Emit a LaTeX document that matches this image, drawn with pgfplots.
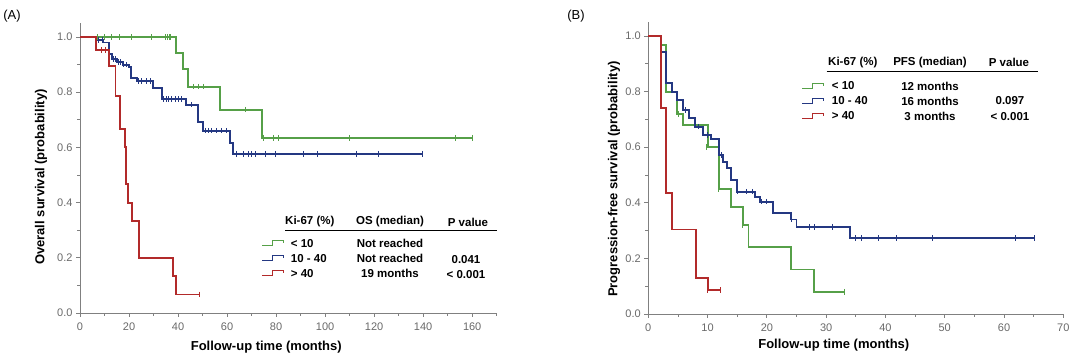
\documentclass[border=0pt]{standalone}
\usepackage{pgfplots}
\pgfplotsset{compat=1.18}
\usepackage{fontspec}
\setmainfont{Liberation Sans}
\definecolor{kmgreen}{RGB}{86,160,72}
\definecolor{kmblue}{RGB}{36,56,130}
\definecolor{kmred}{RGB}{178,42,42}
\definecolor{axgray}{RGB}{128,128,128}
\definecolor{tickgray}{RGB}{105,105,105}
\pgfplotsset{
 kmstyle/.style={
  scale only axis, clip=false,
  axis x line*=bottom, axis y line*=left,
  axis line style={axgray, line width=0.8pt},
  every tick/.style={axgray, line width=0.8pt},
  tick align=outside,
  major tick length=4pt, minor tick length=3pt,
  ymin=0, ymax=1.05,
  ytick={0,0.2,0.4,0.6,0.8,1.0},
  minor ytick={0.1,0.3,0.5,0.7,0.9},
  y tick label style={/pgf/number format/fixed, /pgf/number format/fixed zerofill, /pgf/number format/precision=1},
  /pgf/number format/assume math mode=true,
  tick label style={font=\fontsize{11}{13}\selectfont, text=tickgray},
  x tick label style={yshift=-2pt},
  label style={font=\bfseries\fontsize{13}{15}\selectfont},
 },
 km/.style={const plot, line width=1.9pt, line join=miter, #1},
 cens/.style={only marks, mark=|, mark size=2.8pt, mark options={line width=0.9pt, #1}},
}
\newcommand{\kmglyph}[3]{\draw[#1, line width=0.8pt] (#2,#3-2.5) -- (#2+10,#3-2.5) -- (#2+10,#3+3) -- (#2+21,#3+3) -- (#2+21,#3);}
\begin{document}
\begin{tikzpicture}[x=1pt,y=1pt]
\path[use as bounding box] (0,0) rectangle (1080,364);
% ---------------- Panel A ----------------
\begin{axis}[kmstyle, at={(80pt,51pt)}, anchor=south west,
  width=416.7pt, height=289.8pt,
  xmin=0, xmax=170,
  xtick={0,20,40,60,80,100,120,140,160},
  minor xtick={10,30,50,70,90,110,130,150,170},
  xlabel={Follow-up time (months)},
  ylabel={Overall survival (probability)},
  xlabel style={at={(axis description cs:0.447,0)}, anchor=center, yshift=-34pt},
  ylabel style={at={(axis description cs:-0.0936,0.469)}, anchor=center},
]
\addplot[km=kmgreen] coordinates {(0,1.0) (39,0.943) (42,0.883) (44.2,0.82) (57,0.737) (74.1,0.635) (160,0.635)};
\addplot[cens=kmgreen] coordinates {(7,1) (10,1) (13,1) (16,1) (21,1) (29,1) (35,1) (35.7,1) (36.4,1) (37.1,1)
 (46.3,0.82) (48.3,0.82) (50.3,0.82) (67.3,0.737)
 (74.8,0.635) (78.9,0.635) (80.9,0.635) (109.9,0.635) (153,0.635) (160,0.635)};
\addplot[km=kmblue] coordinates {(0,1.0) (6.5,0.99) (9.5,0.98) (12.0,0.94) (12.9,0.92) (15,0.91) (17.7,0.90) (20,0.89) (20.8,0.85) (23.1,0.84) (29.7,0.815) (33.3,0.776) (43.3,0.755) (48.3,0.692) (50.3,0.661) (61.2,0.615) (62.3,0.577) (140,0.577)};
\addplot[cens=kmblue] coordinates {(7.5,0.99) (9,0.99) (13.6,0.92) (14.3,0.92) (15.6,0.91) (16.3,0.91) (17.9,0.90) (19.0,0.90)
 (23.8,0.84) (25.2,0.84) (27.2,0.84) (28.6,0.84)
 (34,0.776) (35.1,0.776) (36,0.776) (37.4,0.776) (38.8,0.776) (40.1,0.776) (41.5,0.776) (45.6,0.755)
 (51,0.661) (52.4,0.661) (53.7,0.661) (55.8,0.661) (57.8,0.661) (59.9,0.661)
 (64,0.577) (66.7,0.577) (68.7,0.577) (70.1,0.577) (71.4,0.577) (75.5,0.577) (79.6,0.577) (91.2,0.577) (96.9,0.577) (112.9,0.577) (121.8,0.577) (139.9,0.577)};
\addplot[km=kmred] coordinates {(0,1.0) (6.5,0.953) (12,0.896) (14.5,0.787) (16.5,0.666) (18.2,0.6) (18.9,0.467) (19.7,0.4) (21.1,0.333) (24.1,0.2) (38.1,0.133) (39.2,0.067) (48.7,0.067)};
\addplot[cens=kmred] coordinates {(8.8,0.953) (10.2,0.953) (48.7,0.067)};
\end{axis}
% ---------------- Panel B ----------------
\begin{axis}[kmstyle, at={(648.3pt,50pt)}, anchor=south west,
  width=415pt, height=291.9pt,
  xmin=0, xmax=70,
  xtick={0,10,20,30,40,50,60,70},
  minor xtick={5,15,25,35,45,55,65},
  xlabel={Follow-up time (months)},
  ylabel={Progression-free survival (probability)},
  xlabel style={at={(axis description cs:0.447,0)}, anchor=center, yshift=-31pt},
  ylabel style={at={(axis description cs:-0.0827,0.462)}, anchor=center},
]
\addplot[km=kmgreen] coordinates {(0,1) (2.08,0.967) (3.0,0.80) (4.8,0.72) (5.9,0.68) (10.0,0.6) (11.9,0.45) (13.9,0.384) (15.9,0.32) (16.9,0.24) (24,0.16) (28,0.08) (33.1,0.08)};
\addplot[cens=kmgreen] coordinates {(5.1,0.72) (9.8,0.6) (11.9,0.45) (15.9,0.32) (33.1,0.08)};
\addplot[km=kmblue] coordinates {(0,1) (2.08,0.943) (3.0,0.83) (4.0,0.80) (4.9,0.77) (5.9,0.734) (6.9,0.704) (7.85,0.674) (9.2,0.644) (10.6,0.628) (12.0,0.572) (12.6,0.548) (13.2,0.524) (14.0,0.482) (15.0,0.44) (18.0,0.42) (18.8,0.404) (21.0,0.364) (24.1,0.34) (25.0,0.314) (34.0,0.274) (65.2,0.274)};
\addplot[cens=kmblue] coordinates {(6.2,0.734) (8.5,0.674) (10,0.644) (12.3,0.572) (15,0.44) (16.5,0.44) (17.6,0.44) (19.1,0.404) (20,0.404) (24.1,0.34)
 (27.1,0.314) (28.1,0.314) (31,0.314) (34.9,0.274) (36,0.274) (38.9,0.274) (41.9,0.274) (47.9,0.274) (61.9,0.274) (65.2,0.274)};
\addplot[km=kmred] coordinates {(0,1) (2.08,0.74) (2.97,0.435) (3.95,0.304) (8.1,0.13) (10,0.087) (12.2,0.087)};
\addplot[cens=kmred] coordinates {(10,0.087) (12.2,0.087)};
\end{axis}
% ---------------- Panel labels ----------------
\node[font=\fontsize{13}{15}\selectfont, anchor=center] at (12,348) {(A)};
\node[font=\fontsize{13}{15}\selectfont, anchor=center] at (576,348) {(B)};
% ---------------- Legend A ----------------
\begin{scope}[every node/.style={font=\bfseries\fontsize{11.5}{13}\selectfont, inner sep=0pt}]
\node[anchor=west] at (285,142) {Ki-67 (\%)};
\node at (390,142) {OS (median)};
\node at (468,142) {P value};
\draw[line width=1pt] (285,133.3) -- (497,133.3);
\kmglyph{kmgreen}{262}{120.7}
\kmglyph{kmblue}{262}{105.7}
\kmglyph{kmred}{262}{90.7}
\node[anchor=west] at (290.7,120.7) {< 10};
\node[anchor=west] at (290.7,105.7) {10 - 40};
\node[anchor=west] at (290.7,90.7) {> 40};
\node at (390,120.7) {Not reached};
\node at (390,105.7) {Not reached};
\node at (390,90.7) {19 months};
\node at (466,104) {0.041};
\node at (466,89) {< 0.001};
% ---------------- Legend B ----------------
\node[anchor=west] at (828,301.3) {Ki-67 (\%)};
\node at (930,301.3) {PFS (median)};
\node at (1009,301.3) {P value};
\draw[line width=1pt] (826.7,292.3) -- (1038.3,292.3);
\kmglyph{kmgreen}{802}{278}
\kmglyph{kmblue}{802}{263}
\kmglyph{kmred}{802}{248}
\node[anchor=west] at (831.7,278) {< 10};
\node[anchor=west] at (831.7,263) {10 - 40};
\node[anchor=west] at (831.7,248) {> 40};
\node at (930,278) {12 months};
\node at (930,263) {16 months};
\node at (930,248) {3 months};
\node at (1010,263) {0.097};
\node at (1010,247) {< 0.001};
\end{scope}
\end{tikzpicture}
\end{document}
